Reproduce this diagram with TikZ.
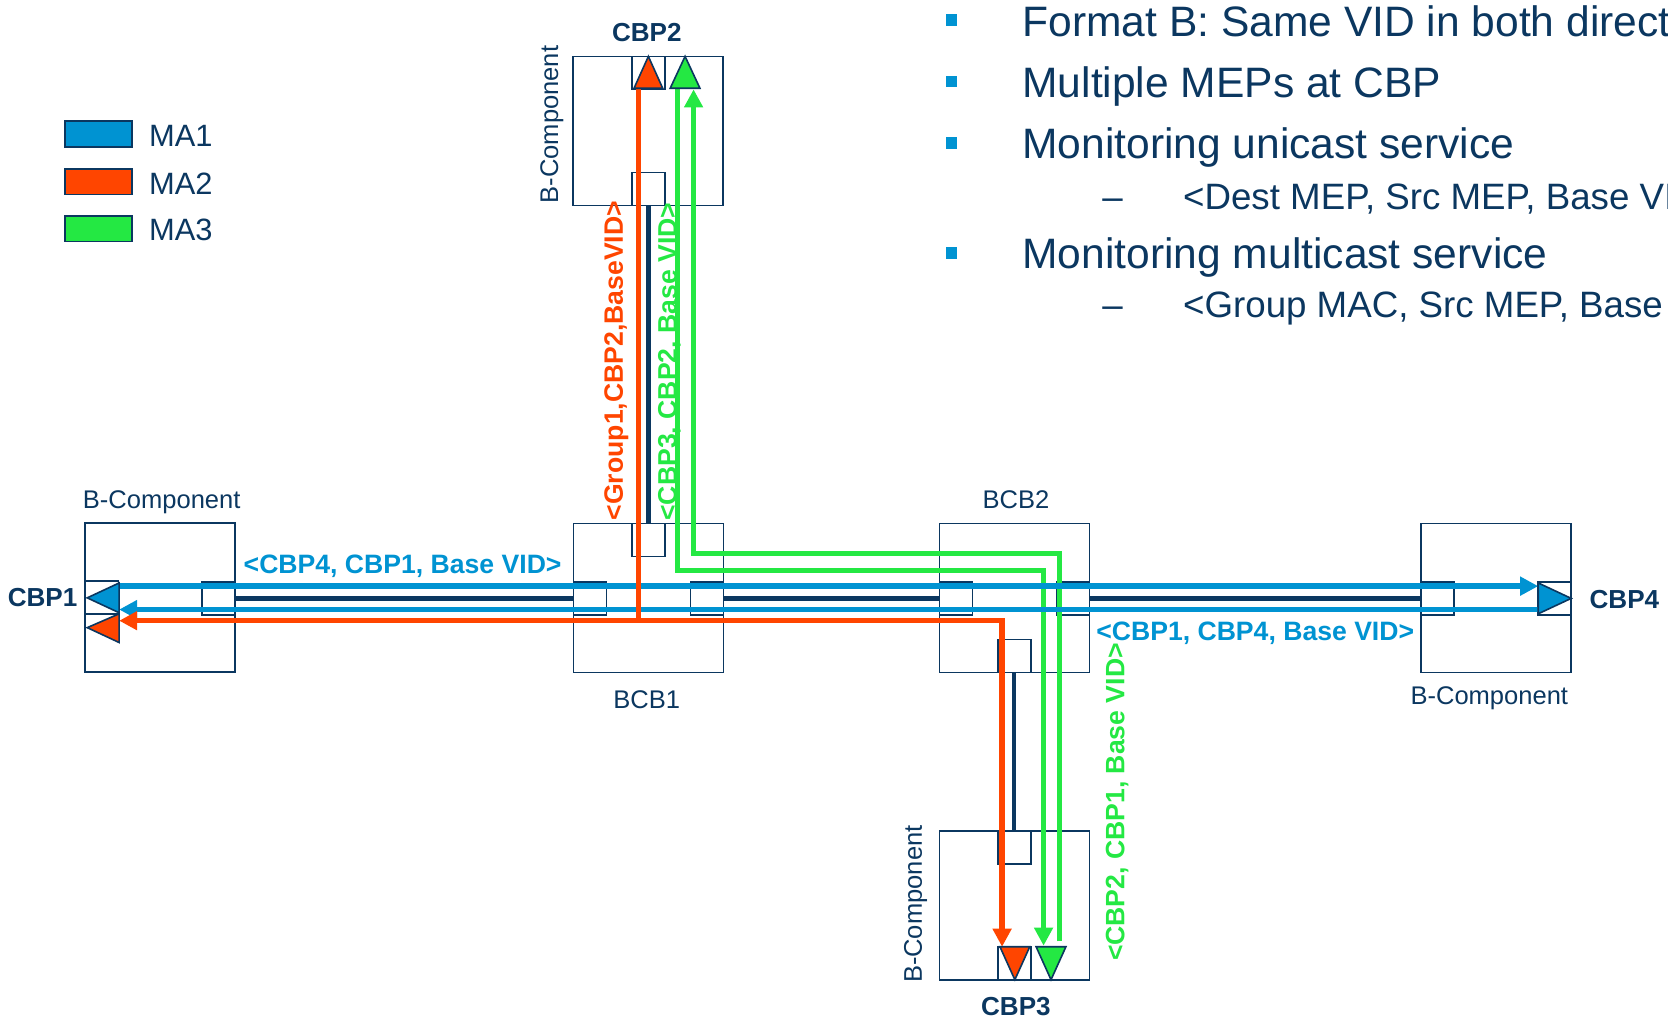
\documentclass[tikz,border=0pt]{standalone}
\usepackage{fontspec}
\setmainfont{Liberation Sans}
\usetikzlibrary{arrows.meta}
\definecolor{navy}{HTML}{0B3760}
\definecolor{mablue}{HTML}{0093D2}
\definecolor{mared}{HTML}{FF4500}
\definecolor{magreen}{HTML}{24E843}
\begin{document}
\begin{tikzpicture}[x=1pt,y=-1pt,
  bbox/.style={draw=navy,line width=1.5pt,minimum width=141pt,minimum height=140pt,inner sep=0pt},
  port/.style={draw=navy,line width=1.5pt,minimum width=31pt,minimum height=31pt,inner sep=0pt},
  lnk/.style={draw=navy,line width=4pt},
  flow/.style={line width=5pt,line join=miter},
  tip/.style={-{Triangle[length=17pt,width=17pt]}},
  tri/.style={draw=navy,line width=1.5pt,line join=miter},
  lbl/.style={text=navy,font=\fontsize{24}{28}\selectfont,anchor=base,inner sep=0pt},
  cbp/.style={text=navy,font=\bfseries\fontsize{24.5}{28}\selectfont,anchor=base,inner sep=0pt},
  vid/.style={font=\bfseries\fontsize{25}{28}\selectfont,anchor=base,inner sep=0pt},
  legbox/.style={draw=navy,line width=1.5pt,minimum width=63pt,minimum height=24pt,inner sep=0pt},
  legtxt/.style={text=navy,font=\fontsize{29}{34}\selectfont,anchor=base west,inner sep=0pt},
  bul/.style={fill=mablue,minimum size=11pt,inner sep=0pt},
  btxt/.style={text=navy,font=\fontsize{40}{48}\selectfont,anchor=base west,inner sep=0pt},
  stxt/.style={text=navy,font=\fontsize{34.5}{40}\selectfont,anchor=base west,inner sep=0pt}
]
\useasboundingbox (0,0) rectangle (1568,957);
\clip (0,0) rectangle (1568,957);

% legend
\node[legbox,fill=mablue] (lg1) at (92.5,126) {};
\node[legbox,fill=mared] (lg2) at (92.5,171) {};
\node[legbox,fill=magreen] (lg3) at (92.5,215) {};
\node[legtxt] (lt1) at (140,137.4) {MA1};
\node[legtxt] (lt2) at (140,182.4) {MA2};
\node[legtxt] (lt3) at (140,226.4) {MA3};

% bullets
\node[bul] (bu1) at (894.5,18.5) {};
\node[bul] (bu2) at (894.5,76.5) {};
\node[bul] (bu3) at (894.5,134.5) {};
\node[bul] (bu4) at (894.5,238) {};
\node[btxt] (t1) at (961,34) {Format B: Same VID in both directions};
\node[btxt] (t2) at (961,91.3) {Multiple MEPs at CBP};
\node[btxt] (t3) at (961,149.3) {Monitoring unicast service};
\node[stxt] (d1) at (1036,196.5) {–};
\node[stxt] (t4) at (1112,196.5) {<Dest MEP, Src MEP, Base VID>};
\node[btxt] (t5) at (961,252.5) {Monitoring multicast service};
\node[stxt] (d2) at (1036,298.5) {–};
\node[stxt] (t6) at (1112,298.5) {<Group MAC, Src MEP, Base VID>};

% bridge component boxes
\node[bbox] (c1) at (150.5,561.5) {};
\node[bbox] (bcb1) at (609.5,562) {};
\node[bbox] (bcb2) at (953.5,562) {};
\node[bbox] (c4) at (1406.5,562) {};
\node[bbox] (c2) at (609,123) {};
\node[bbox] (c3) at (953.5,851) {};

% ports
\node[port] (p1l) at (96,561.5) {};
\node[port] (p1r) at (205.5,562.5) {};
\node[port] (b1l) at (554.5,562.5) {};
\node[port] (b1r) at (664.5,562.5) {};
\node[port] (b1t) at (609.5,507.5) {};
\node[port] (b2l) at (898.5,562.5) {};
\node[port] (b2r) at (1008.5,562.5) {};
\node[port] (b2b) at (953.5,616.5) {};
\node[port] (p4l) at (1351.5,562.5) {};
\node[port] (p4r) at (1461,562.5) {};
\node[port] (p2t) at (609.5,68.5) {};
\node[port] (p2b) at (609.5,177.5) {};
\node[port] (p3t) at (953.5,796.5) {};
\node[port] (p3b) at (953.5,905.5) {};

% links
\draw[lnk] (p1r.east) -- (b1l.west);
\draw[lnk] (b1r.east) -- (b2l.west);
\draw[lnk] (b2r.east) -- (p4l.west);
\draw[lnk] (p2b.south) -- (b1t.north);
\draw[lnk] (b2b.south) -- (p3t.north);

% flow end points
\coordinate (gAs) at (996,885);
\coordinate (gA1) at (996,520);
\coordinate (gA2) at (652,520);
\coordinate (gAe) at (652,84);
\coordinate (gBs) at (637,83);
\coordinate (gB1) at (637,536);
\coordinate (gB2) at (981,536);
\coordinate (gBe) at (981,889);
\coordinate (buS) at (112,551);
\coordinate (buE) at (1446,551);
\coordinate (blS) at (1446,573);
\coordinate (blE) at (112,573);
\coordinate (rS) at (600.5,83);
\coordinate (rJ) at (600.5,583.5);
\coordinate (rL) at (112,583.5);
\coordinate (rR) at (942,583.5);
\coordinate (rE) at (942,890);

% MA3 (green)
\draw[flow,tip,color=magreen] (gAs) -- (gA1) -- (gA2) -- (gAe);
\draw[flow,tip,color=magreen] (gBs) -- (gB1) -- (gB2) -- (gBe);
% MA1 (blue)
\draw[flow,tip,color=mablue] (buS) -- (buE);
\draw[flow,tip,color=mablue] (blS) -- (blE);
% MA2 (red)
\draw[flow,tip,color=mared] (rS) -- (rJ) -- (rL);
\draw[flow,tip,color=mared] (rJ) -- (rR) -- (rE);

% MEP triangles
\filldraw[tri,fill=mablue] (82,562) -- (112,548) -- (112,576) -- cycle;
\filldraw[tri,fill=mared] (82,590) -- (112,577) -- (112,604) -- cycle;
\filldraw[tri,fill=mablue] (1477,562.5) -- (1446,548) -- (1446,577) -- cycle;
\filldraw[tri,fill=mared] (609.5,53) -- (596,83) -- (623,83) -- cycle;
\filldraw[tri,fill=magreen] (644,53) -- (630,83) -- (658,83) -- cycle;
\filldraw[tri,fill=mared] (954,921) -- (940,890) -- (968,890) -- cycle;
\filldraw[tri,fill=magreen] (988,921) -- (974,890) -- (1002,890) -- cycle;

% component labels
\node[lbl] (l1) at (152,477.6) {B-Component};
\node[lbl] (l4) at (1400,662.6) {B-Component};
\node[lbl,rotate=90] (l2) at (524.6,117) {B-Component};
\node[lbl,rotate=90] (l3) at (866.6,850) {B-Component};
\node[lbl] (lb1) at (608,665.6) {BCB1};
\node[lbl] (lb2) at (955,477.6) {BCB2};
\node[cbp] (n1) at (40,569.7) {CBP1};
\node[cbp] (n2) at (608,38.7) {CBP2};
\node[cbp] (n3) at (955,954.7) {CBP3};
\node[cbp] (n4) at (1527,571.7) {CBP4};

% flow labels
\node[vid,text=mablue] (v1) at (378.5,539) {<CBP4, CBP1, Base VID>};
\node[vid,text=mablue] (v2) at (1180,602) {<CBP1, CBP4, Base VID>};
\node[vid,text=mared,rotate=90] (v3) at (585.5,339) {<Group1,CBP2,BaseVID>};
\node[vid,text=magreen,rotate=90] (v4) at (636,340) {<CBP3, CBP2, Base VID>};
\node[vid,text=magreen,rotate=90] (v5) at (1057,754) {<CBP2, CBP1, Base VID>};
\end{tikzpicture}
\end{document}
